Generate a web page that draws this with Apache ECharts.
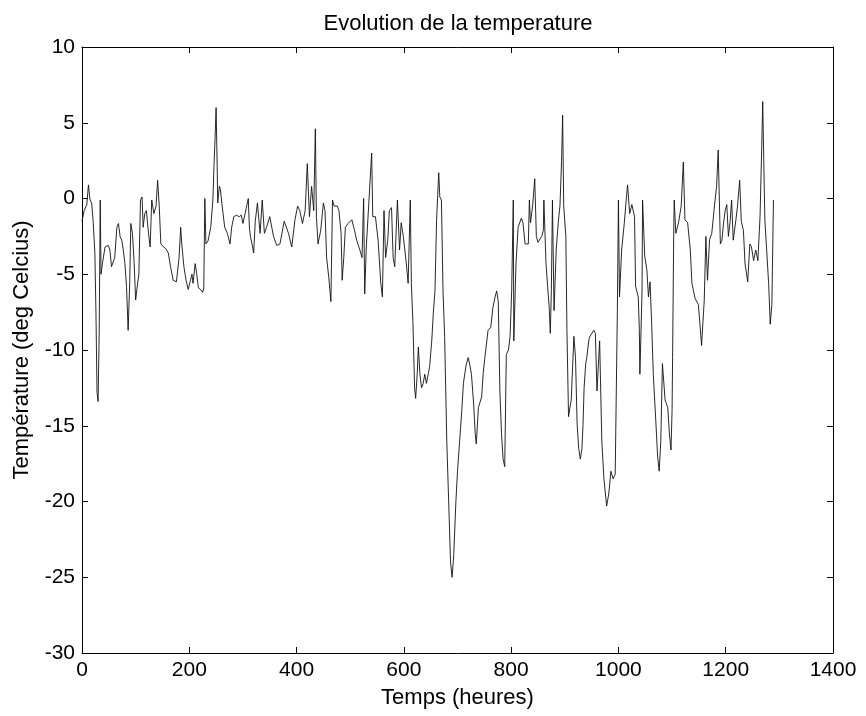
<!DOCTYPE html>
<html>
<head>
<meta charset="utf-8">
<script src="https://cdn.jsdelivr.net/npm/echarts@6/dist/echarts.min.js"></script>
<style>
html, body { margin: 0; padding: 0; background: #fff; }
#chart { width: 866px; height: 716px; }
</style>
</head>
<body>
<div id="chart"></div>
<script>
// temps (heures) et temperature
var hours = [0,4,9,12,15,18,21,24,26,28,30,32,34,35.5,38,43,49,52,55,58,61,65,68,71,74,77,80,83,86,89,91,94,97,100,103,106,109,112,114,117,120,124,127,130,134,138,141,144,147,152,156,161,165,170,176,181,184,186,190,194,198,201,205,207,211,214,217,221,225,227,229,231,235,240,244,246,248,250,252,253,256,258,260,263,266,271,276,279,283,288,293,297,300,304,307,310,312,314,318,320,
  323,327,332,336,340,344,350,357,363,369,377,385,391,397,402,406,411,416,420,424,428,432,435,437,440,445,450,453,456,460,464,467,470,476,479,483,485,488,491,496,503,508,512,518,522,525,527,530,535,540,542,547,552,557,560,563,566,570,573,577,580,583,
  588,592,595,599,604,608,612,614,617,620,622,625,627,630,633,636,639,642,646,648,652,655,658,661,665,667,670,673,676,680,684,687,690,693,697,700,704,708,711,716,720,723,726,730,733,735,739,745,748,751,757,762,766,770,773,776,779,782,785,788,791,795,798,801,804,805,809,813,819,822,826,829,832,834,836,840,844,847,850,853,857,860,861,865,868,871,873,875,877,880,884,888,891,894,896,898,902,904,907,910,912,917,920,923,926,929,932,934,936,939,941,945,947,954,957,960,965,969,973,978,982,986,990,994,997,998,
  1000,1002,1006,1011,1014,1017,1021,1025,1030,1032,1037,1039,1040,1044,1045,1049,1053,1056,1059,1062,1065,1070,1073,1076,1079,1082,1087,1092,1095,1098,1100,1101,1103,1104,1107,1112,1117,1121,1124,1129,1134,1137,1143,1149,1152,1155,1160,1163,1166,1170,1174,1179,1183,1186,1190,1193,1196,1199,1202,1205,1208,1211,1214,1219,1222,1226,1229,1233,1236,1241,1245,1248,1252,1256,1260,1264,1267,1269,1271,1273,1276,1280,1283,1286,1289];
var temps = [-1.5,-0.8,-0.4,0.9,-0.1,-0.3,-1.6,-3.6,-7.5,-12.8,-13.4,-9,-0.1,-5,-4.3,-3.2,-3.1,-3.4,-4.5,-4.6,-3.9,-1.9,-1.65,-2.5,-2.75,-3.4,-4.3,-5.8,-8.7,-5.5,-1.65,-2.3,-4.1,-6.7,-5.8,-5,-0.1,0.1,-1.9,-1,-0.8,-2.3,-3.2,-0.1,-1,-0.5,1.2,-0.5,-3,-3.2,-3.3,-3.6,-4.5,-5.4,-5.5,-3.9,-1.9,-3,-4.5,-5.4,-6,-5.9,-5,-5.6,-4.3,-5,-5.9,-6,-6.2,-5.9,0,-3,-2.8,-1.9,-0.1,2.1,3.9,6,2.1,-0.3,0.8,0.6,-0.1,-1,-1.9,-2.3,-3,-1.9,-1.2,-1.1,-1.2,-1.1,-1.65,-1,-1,0,-1.9,-2.5,-3.2,-3.6,
  -1.5,-0.3,-2.3,-0.1,-2.3,-1.9,-1.2,-2.5,-3.1,-3,-1.5,-2.3,-3.2,-1.4,-0.5,-0.8,-1.65,-0.8,2.3,-1.2,0.8,-0.8,4.6,-1.2,-3,-2.1,-0.3,-0.8,-3.9,-5.2,-6.8,-0.1,-0.5,-0.5,-0.8,-2.3,-5.4,-3.9,-1.9,-1.65,-1.4,-2.1,-2.75,-3.4,-3.9,0,-6.3,-3.2,-0.1,3,-1.2,-1.2,-2.75,-5.6,-6.5,-0.8,-3.9,-2.75,-0.8,-0.6,-3.9,-4.5,
  -0.1,-3.4,-1.6,-2.5,-4.1,-5.6,-0.1,-5.6,-8.3,-12.5,-13.2,-11.5,-9.8,-11.6,-12.5,-12.2,-11.6,-12.2,-11.5,-11.1,-9.4,-7.5,-6.1,-1.4,1.7,0.1,-0.1,-6.1,-9.1,-16,-20.5,-24,-25,-23.5,-20,-18,-16,-14,-12.2,-11,-10.5,-11,-11.6,-13.5,-15.5,-16.2,-13.8,-13.1,-11.5,-10.5,-8.7,-8.5,-7.2,-6.5,-6.1,-6.8,-12.7,-15.5,-17.2,-17.7,-10.3,-10,-9.1,-6.1,-0.1,-9.4,-4.3,-1.9,-1.3,-1.6,-3,-3.1,-3,-0.1,-1.6,-0.5,1.3,-2.5,-2.9,-3,-2.5,-2.1,-0.1,-4.3,-5.8,-7.2,-8.9,-6,-0.1,-7.4,-3.4,-1.5,-0.5,2.5,5.5,-0.5,-2.5,-8.7,-14.4,-13.7,-13.3,-9.1,-10.5,-14.9,-16.5,-17.2,-16.5,-14.9,-12.5,-10.9,-10.5,-9.3,-9.1,-8.7,-8.9,-12.7,-9.4,-16,-18.5,-20.3,-19.5,-18,-18.5,-18.2,-18.3,-7.4,
  -0.1,-6.5,-3.4,-1.6,-0.3,0.9,-1,-0.4,-1.2,-5.8,-6.5,-8.7,-11.6,-6.1,-0.1,-3.8,-4.7,-6.5,-5.5,-8.3,-11.6,-14.9,-17,-18,-16,-10.9,-13.3,-13.8,-15.5,-16.6,-14,-10.5,-2.5,-0.1,-2.3,-1.6,-0.5,2.4,-1.4,-1.6,-3.4,-5.6,-6.6,-7,-8.3,-9.7,-6.7,-2.5,-5.4,-2.7,-2.3,-0.5,0.8,3.2,-3,-2.75,-1.6,-0.8,-0.4,-2.5,-1.6,-0.1,-2.75,-1.4,-0.5,1.2,-1.5,-2.1,-4.3,-5.5,-3,-3.2,-4.1,-3.4,-4.1,-1.2,3.2,6.4,2.3,-1.4,-3.2,-5.6,-8.3,-7,-0.1];

var xTicks = { min: 0, max: 1400, interval: 200 };
var yTicks = { min: -30, max: 10, interval: 5 };

initChart();

/** -------- dessin du graphe ------ */
function initChart() {
    var chart = echarts.init(document.getElementById('chart'));
    var seriesData = [];
    for (var i = 0; i < hours.length; i++) {
        seriesData.push([hours[i], temps[i]]);
    }
    var font = 'Liberation Sans';
    var lineStyle = { color: '#000', width: 1 };
    var plain = function (v) { return String(v); };
    var option = {
        animation: false,
        backgroundColor: '#fff',
        title: {
            text: 'Evolution de la temperature',
            left: 458,
            textAlign: 'center',
            top: 13,
            padding: 0,
            textStyle: { fontFamily: font, fontSize: 22, fontWeight: 'normal', color: '#000' }
        },
        grid: { left: 82, right: 33, top: 47, bottom: 63 },
        xAxis: [{
            type: 'value',
            min: xTicks.min, max: xTicks.max, interval: xTicks.interval,
            name: 'Temps (heures)',
            nameLocation: 'middle',
            nameGap: 34,
            nameTextStyle: { fontFamily: font, fontSize: 22, color: '#000' },
            axisLine: { onZero: false, lineStyle: lineStyle },
            axisTick: { inside: true, length: 6, lineStyle: lineStyle },
            axisLabel: { fontFamily: font, fontSize: 21, color: '#000', margin: 7, formatter: plain },
            splitLine: { show: false }
        }, {
            type: 'value', position: 'top',
            min: xTicks.min, max: xTicks.max, interval: xTicks.interval,
            axisLine: { onZero: false, lineStyle: lineStyle },
            axisTick: { inside: true, length: 6, lineStyle: lineStyle },
            axisLabel: { show: false },
            splitLine: { show: false }
        }],
        yAxis: [{
            type: 'value',
            min: yTicks.min, max: yTicks.max, interval: yTicks.interval,
            name: 'Température (deg Celcius)',
            nameLocation: 'middle',
            nameGap: 49,
            nameTextStyle: { fontFamily: font, fontSize: 22, color: '#000' },
            axisLine: { onZero: false, lineStyle: lineStyle },
            axisTick: { inside: true, length: 6, lineStyle: lineStyle },
            axisLabel: { fontFamily: font, fontSize: 21, color: '#000', margin: 7 },
            splitLine: { show: false }
        }, {
            type: 'value', position: 'right',
            min: yTicks.min, max: yTicks.max, interval: yTicks.interval,
            axisLine: { onZero: false, lineStyle: lineStyle },
            axisTick: { inside: true, length: 6, lineStyle: lineStyle },
            axisLabel: { show: false },
            splitLine: { show: false }
        }],
        series: [{
            type: 'line',
            xAxisIndex: 0,
            yAxisIndex: 0,
            data: seriesData,
            showSymbol: false,
            lineStyle: { color: '#111', width: 0.9 }
        }]
    };
    chart.setOption(option);
}
</script>
</body>
</html>
